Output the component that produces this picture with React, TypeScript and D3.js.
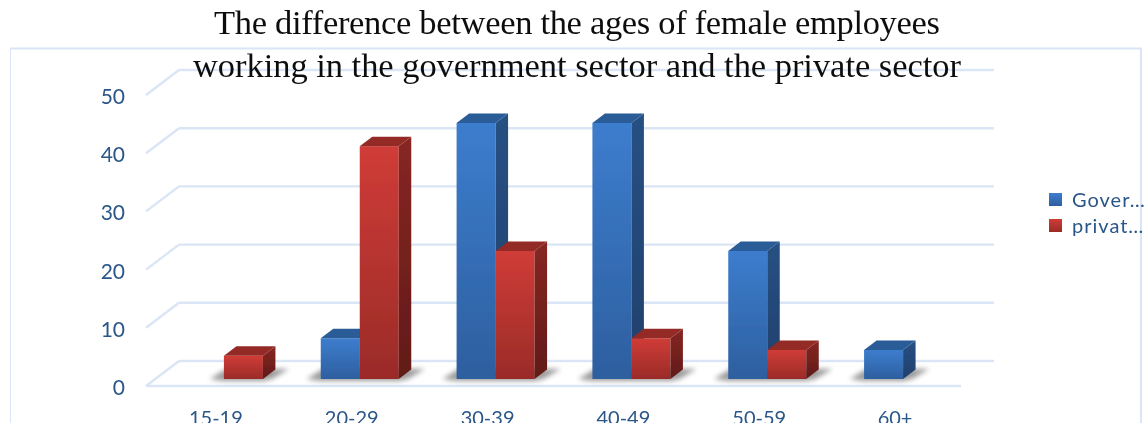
import React from "react";
import * as d3 from "d3";

const categories = ["15-19", "20-29", "30-39", "40-49", "50-59", "60+"];
const government: (number | null)[] = [null, 7, 44, 44, 22, 5];
const privateSector: (number | null)[] = [4, 40, 22, 7, 5, null];
const yTicks = [0, 10, 20, 30, 40, 50];
const titleLines = [
  "The difference between the ages of female employees",
  "working in the government sector and the private sector",
];
const legendLabels = ["Gover…", "privat…"];

const W = 1144, H = 423;
const depthX = 33, depthY = 25;
const barDX = 12.5, barDY = 9.5;
const barInsetX = 10, barInsetY = 7;
const labelFont = "Lato, 'Open Sans', sans-serif";
const textColor = "#2b5688";
const gridColor = "#dae5f5";

const x = d3.scaleBand<string>().domain(categories).range([146, 961]);
const y = d3.scaleLinear().domain([0, 50]).range([386, 95]);
const barW = 39;

type Palette = { front: string; side: string; top: string };
const palettes: Palette[] = [
  { front: "url(#blueFront)", side: "url(#blueSide)", top: "#2a5b98" },
  { front: "url(#redFront)", side: "url(#redSide)", top: "#942a26" },
];

function Bar({ x0, v, p }: { x0: number; v: number; p: Palette }) {
  const base = y(0) - barInsetY;
  const top = y(v) - barInsetY;
  const x1 = x0 + barW;
  return (
    <g>
      <rect x={x0} y={top} width={barW} height={base - top} fill={p.front} />
      <polygon
        points={`${x1},${top} ${x1 + barDX},${top - barDY} ${x1 + barDX},${base - barDY} ${x1},${base}`}
        fill={p.side}
      />
      <polygon
        points={`${x0},${top} ${x0 + barDX},${top - barDY} ${x1 + barDX},${top - barDY} ${x1},${top}`}
        fill={p.top}
      />
    </g>
  );
}

function Shadow({ x0, x1 }: { x0: number; x1: number }) {
  const base = y(0) - barInsetY;
  return (
    <polygon
      points={`${x0 - 14},${base} ${x0 + 2},${base - 10} ${x1 + 26},${base - 10} ${x1 + 9},${base} ${x1},${base + 2} ${x0},${base + 2}`}
      fill="#666"
      opacity={0.65}
      filter="url(#shadowBlur)"
    />
  );
}

export default function App() {
  const groups = categories.map((c, i) => {
    const cx = (x(c) as number) + x.bandwidth() / 2 + barInsetX;
    const series = [government[i], privateSector[i]];
    const starts = [cx - barW, cx];
    return { c, cx, series, starts };
  });

  return (
    <svg
      width={W}
      height={H}
      style={{ position: "absolute", left: 0, top: 0, background: "#fff" }}
    >
      <defs>
        <linearGradient id="blueFront" x1="0" y1="0" x2="0" y2="1">
          <stop offset="0" stopColor="#3d7dce" />
          <stop offset="1" stopColor="#2d5f9f" />
        </linearGradient>
        <linearGradient id="blueSide" x1="0" y1="0" x2="0" y2="1">
          <stop offset="0" stopColor="#275183" />
          <stop offset="1" stopColor="#1f3f6c" />
        </linearGradient>
        <linearGradient id="redFront" x1="0" y1="0" x2="0" y2="1">
          <stop offset="0" stopColor="#d03c37" />
          <stop offset="1" stopColor="#9a2b28" />
        </linearGradient>
        <linearGradient id="redSide" x1="0" y1="0" x2="0" y2="1">
          <stop offset="0" stopColor="#872622" />
          <stop offset="1" stopColor="#611b18" />
        </linearGradient>
        <filter id="shadowBlur" x="-20%" y="-100%" width="140%" height="300%">
          <feGaussianBlur stdDeviation="2.8" />
        </filter>
        <filter id="soft" x="0" y="0" width="100%" height="100%">
          <feGaussianBlur stdDeviation="0.45" />
        </filter>
      </defs>

      <g filter="url(#soft)">
        <rect x={10} y={48.5} width={1131} height={H} fill="#fff" stroke={gridColor} strokeWidth={2} />

        {yTicks.map((t) => (
          <g key={t} stroke={gridColor} strokeWidth={2.4} fill="none">
            <line x1={146} y1={y(t)} x2={146 + depthX} y2={y(t) - depthY} />
            <line x1={146 + depthX} y1={y(t) - depthY} x2={961 + depthX} y2={y(t) - depthY} />
          </g>
        ))}
        <line x1={146} y1={y(0)} x2={961} y2={y(0)} stroke={gridColor} strokeWidth={2.4} />

        {yTicks.map((t) => (
          <text
            key={t}
            x={125}
            y={y(t) + 9}
            textAnchor="end"
            fontFamily={labelFont}
            fontSize={21}
            fill={textColor}
          >
            {d3.format("d")(t)}
          </text>
        ))}

        {groups.map((g) => {
          const present = g.series
            .map((v, i) => ({ v, start: g.starts[i] }))
            .filter((d) => d.v != null);
          return (
            <g key={g.c}>
              <Shadow x0={present[0].start} x1={present[present.length - 1].start + barW} />
              {g.series.map((v, i) =>
                v == null ? null : <Bar key={i} x0={g.starts[i]} v={v} p={palettes[i]} />
              )}
            </g>
          );
        })}

        {categories.map((c) => (
          <text
            key={c}
            x={(x(c) as number) + x.bandwidth() / 2 + 2}
            y={425}
            textAnchor="middle"
            fontFamily={labelFont}
            fontSize={20}
            fill={textColor}
          >
            {c}
          </text>
        ))}

        {legendLabels.map((l, i) => (
          <g key={l}>
            <rect x={1049} y={193 + i * 26} width={13} height={13} fill={i === 0 ? "url(#blueFront)" : "url(#redFront)"} />
            <text x={1072} y={207 + i * 26} fontFamily={labelFont} fontSize={20} letterSpacing={1} fill={textColor}>
              {l}
            </text>
          </g>
        ))}

        {titleLines.map((t, i) => (
          <text
            key={i}
            x={577}
            y={34 + i * 42.5}
            textAnchor="middle"
            fontFamily="'Liberation Serif', serif"
            fontSize={34.5}
            fill="#111"
            textLength={i === 0 ? 726 : 768}
            lengthAdjust="spacing"
          >
            {t}
          </text>
        ))}
      </g>
    </svg>
  );
}
